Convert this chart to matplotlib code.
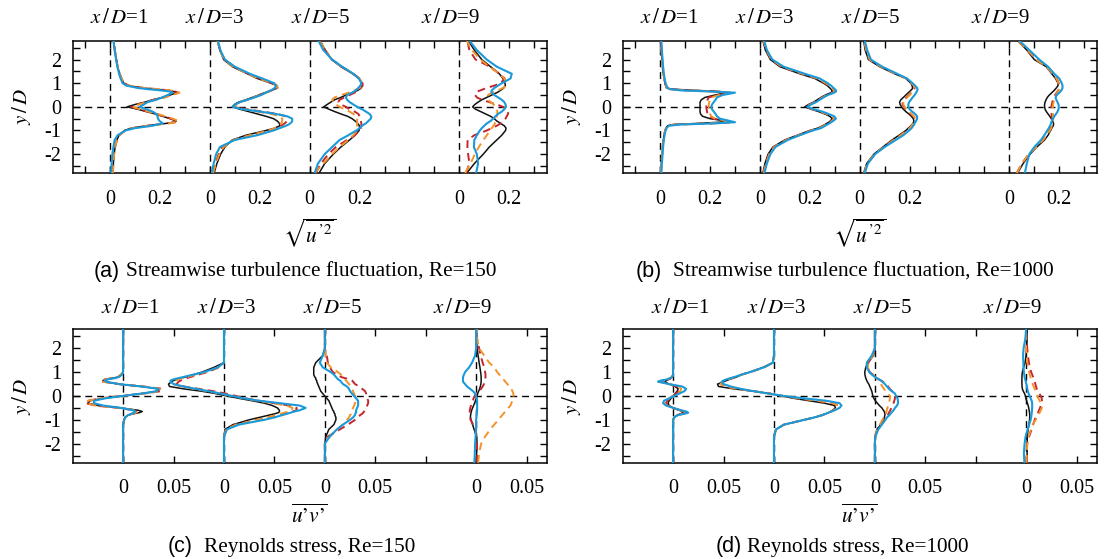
import matplotlib
matplotlib.use('Agg')
import matplotlib.pyplot as plt
import numpy as np

plt.rcParams['font.family'] = 'serif'
plt.rcParams['font.serif'] = ['Liberation Serif', 'DejaVu Serif']
plt.rcParams['mathtext.fontset'] = 'stix'

# ---------------- data ----------------
Y = [-2.8, -2.4, -2.0, -1.7, -1.4, -1.2, -1.0, -0.9,
     -0.8, -0.75, -0.7, -0.65, -0.6,
     -0.5, -0.4, -0.3, -0.2, -0.1, 0.0, 0.1, 0.2, 0.3, 0.4, 0.5,
     0.6, 0.65, 0.7, 0.75, 0.8,
     0.9, 1.0, 1.2, 1.4, 1.7, 2.0, 2.4, 2.8]

STATIONS = ['1', '3', '5', '9']
OFFSETS_U = [0.0, 0.4, 0.8, 1.4]
OFFSETS_UV = [0.0, 0.1, 0.2, 0.35]
U_TICKS = [-0.1, 0.0, 0.1, 0.2, 0.3, 0.4, 0.5, 0.6, 0.7, 0.8, 0.9, 1.0, 1.1, 1.2, 1.3, 1.4, 1.5, 1.6, 1.7]
U_TICKLABELS = ['', '0', '', '0.2', '', '0', '', '0.2', '', '0', '', '0.2', '', '', '', '0', '', '0.2', '']
UV_TICKS = [0.0, 0.05, 0.1, 0.15, 0.2, 0.25, 0.3, 0.35, 0.4]
UV_TICKLABELS = ['0', '0.05', '0', '0.05', '0', '0.05', '', '0', '0.05']
Y_TICKS = [-2.5, -2.0, -1.5, -1.0, -0.5, 0.0, 0.5, 1.0, 1.5, 2.0, 2.5]
Y_TICKLABELS = ['', '-2', '', '-1', '', '0', '', '1', '', '2', '']

# (a) Re=150, streamwise fluctuation
A1_K = [0.011,0.013,0.016,0.02,0.027,0.036,0.057,0.085,
        0.145,0.185,0.225,0.255,0.265,
        0.24,0.21,0.18,0.145,0.11,0.068,0.10,0.14,0.17,0.21,0.24,
        0.268,0.255,0.23,0.18,0.13,
        0.07,0.055,0.045,0.038,0.03,0.025,0.019,0.014]
A1_R = [0.011,0.013,0.016,0.02,0.027,0.037,0.06,0.09,
        0.15,0.19,0.23,0.26,0.27,
        0.245,0.215,0.185,0.15,0.115,0.085,0.11,0.145,0.175,0.215,0.245,
        0.272,0.26,0.235,0.185,0.135,
        0.075,0.057,0.046,0.038,0.03,0.025,0.019,0.014]
A1_O = [0.011,0.013,0.016,0.02,0.027,0.037,0.06,0.09,
        0.15,0.19,0.235,0.265,0.275,
        0.25,0.22,0.19,0.155,0.12,0.09,0.115,0.15,0.18,0.22,0.25,
        0.278,0.265,0.24,0.19,0.135,
        0.075,0.057,0.046,0.038,0.03,0.025,0.019,0.014]
A1_B = [0.004,0.006,0.009,0.013,0.018,0.03,0.062,0.10,
        0.17,0.19,0.21,0.205,0.198,
        0.192,0.19,0.185,0.17,0.145,0.118,0.135,0.15,0.185,0.21,0.23,
        0.25,0.24,0.2,0.15,0.11,
        0.065,0.05,0.042,0.036,0.029,0.024,0.018,0.013]

A2_K = [0.017,0.028,0.043,0.06,0.09,0.145,0.225,0.26,
        0.28,0.28,0.278,0.275,0.27,
        0.255,0.225,0.19,0.155,0.12,0.09,0.098,0.115,0.145,0.17,0.195,
        0.22,0.233,0.245,0.26,0.272,
        0.268,0.245,0.19,0.15,0.09,0.055,0.04,0.03]
A2_R = [0.012,0.022,0.035,0.05,0.095,0.17,0.24,0.265,
        0.285,0.292,0.3,0.305,0.308,
        0.31,0.305,0.27,0.21,0.145,0.105,0.1,0.12,0.15,0.175,0.2,
        0.225,0.237,0.248,0.256,0.262,
        0.265,0.25,0.2,0.155,0.095,0.058,0.041,0.031]
A2_O = [0.013,0.024,0.038,0.055,0.095,0.16,0.235,0.26,
        0.278,0.282,0.285,0.288,0.29,
        0.29,0.28,0.245,0.19,0.135,0.1,0.1,0.12,0.15,0.175,0.2,
        0.225,0.238,0.25,0.26,0.27,
        0.27,0.25,0.195,0.152,0.093,0.057,0.04,0.03]
A2_B = [0.008,0.015,0.025,0.04,0.1,0.19,0.255,0.28,
        0.305,0.315,0.322,0.327,0.33,
        0.33,0.31,0.265,0.2,0.13,0.092,0.1,0.12,0.15,0.18,0.205,
        0.225,0.235,0.245,0.253,0.26,
        0.265,0.258,0.21,0.16,0.1,0.06,0.042,0.032]

A3_K = [0.038,0.06,0.095,0.125,0.16,0.182,0.198,0.2,
        0.199,0.196,0.192,0.188,0.182,
        0.17,0.152,0.125,0.1,0.077,0.056,0.07,0.085,0.1,0.125,0.145,
        0.17,0.182,0.193,0.2,0.205,
        0.211,0.21,0.198,0.172,0.125,0.088,0.062,0.042]
A3_R = [0.025,0.045,0.075,0.105,0.15,0.18,0.2,0.205,
        0.207,0.207,0.207,0.206,0.205,
        0.203,0.2,0.195,0.18,0.16,0.145,0.125,0.115,0.12,0.14,0.16,
        0.18,0.188,0.195,0.2,0.205,
        0.212,0.212,0.2,0.175,0.128,0.09,0.062,0.04]
A3_O = [0.02,0.055,0.09,0.12,0.155,0.175,0.19,0.19,
        0.19,0.19,0.19,0.19,0.19,
        0.19,0.188,0.175,0.16,0.14,0.12,0.105,0.095,0.09,0.1,0.125,
        0.155,0.168,0.18,0.19,0.2,
        0.208,0.21,0.2,0.175,0.127,0.089,0.061,0.04]
A3_B = [0.02,0.033,0.06,0.09,0.12,0.155,0.187,0.2,
        0.21,0.217,0.225,0.23,0.235,
        0.245,0.247,0.24,0.225,0.21,0.19,0.175,0.16,0.15,0.145,0.15,
        0.17,0.178,0.185,0.19,0.195,
        0.203,0.207,0.197,0.175,0.13,0.09,0.055,0.035]

A4_K = [0.03,0.06,0.096,0.12,0.15,0.17,0.185,0.187,
        0.18,0.172,0.165,0.158,0.15,
        0.14,0.125,0.105,0.085,0.065,0.053,0.062,0.075,0.09,0.11,0.13,
        0.15,0.158,0.165,0.172,0.178,
        0.184,0.183,0.175,0.16,0.125,0.09,0.06,0.036]
A4_R = [0.027,0.04,0.035,0.032,0.033,0.06,0.11,0.13,
        0.15,0.158,0.165,0.17,0.176,
        0.185,0.19,0.195,0.196,0.19,0.175,0.15,0.12,0.09,0.07,0.063,
        0.065,0.072,0.085,0.097,0.11,
        0.14,0.165,0.182,0.16,0.123,0.065,0.04,0.032]
A4_O = [0.023,0.045,0.062,0.078,0.096,0.11,0.123,0.13,
        0.137,0.14,0.142,0.144,0.145,
        0.148,0.15,0.152,0.152,0.15,0.145,0.137,0.125,0.115,0.11,0.115,
        0.13,0.142,0.155,0.165,0.175,
        0.188,0.19,0.18,0.16,0.12,0.085,0.05,0.03]
A4_B = [0.067,0.075,0.07,0.058,0.06,0.07,0.082,0.09,
        0.1,0.105,0.11,0.118,0.125,
        0.135,0.145,0.155,0.17,0.18,0.187,0.185,0.18,0.17,0.155,0.14,
        0.13,0.128,0.13,0.135,0.14,
        0.155,0.17,0.205,0.21,0.15,0.11,0.07,0.04]

# (b) Re=1000, streamwise fluctuation
B1_K = [0.003,0.005,0.008,0.01,0.013,0.016,0.02,0.024,
        0.03,0.05,0.15,0.24,0.265,
        0.2,0.17,0.162,0.16,0.16,0.16,0.16,0.16,0.165,0.18,0.22,
        0.262,0.24,0.14,0.045,0.025,
        0.022,0.02,0.016,0.013,0.01,0.008,0.005,0.003]
B1_R = [0.003,0.005,0.008,0.01,0.013,0.016,0.02,0.024,
        0.03,0.06,0.2,0.29,0.27,
        0.215,0.195,0.19,0.188,0.186,0.185,0.186,0.188,0.19,0.195,0.23,
        0.28,0.22,0.1,0.04,0.027,
        0.023,0.02,0.016,0.013,0.01,0.008,0.005,0.003]
B1_O = [0.003,0.005,0.008,0.01,0.013,0.016,0.02,0.024,
        0.03,0.06,0.2,0.285,0.27,
        0.22,0.205,0.2,0.197,0.195,0.195,0.195,0.197,0.2,0.205,0.235,
        0.28,0.22,0.1,0.04,0.027,
        0.023,0.02,0.016,0.013,0.01,0.008,0.005,0.003]
B1_B = [0.005,0.007,0.01,0.012,0.015,0.018,0.022,0.026,
        0.035,0.08,0.22,0.3,0.28,
        0.24,0.228,0.222,0.215,0.208,0.205,0.208,0.215,0.222,0.228,0.25,
        0.3,0.2,0.08,0.04,0.03,
        0.026,0.022,0.018,0.015,0.012,0.01,0.007,0.005]

B2_K = [0.012,0.02,0.033,0.052,0.1,0.15,0.2,0.232,
        0.252,0.26,0.268,0.276,0.282,
        0.29,0.28,0.26,0.235,0.205,0.18,0.195,0.215,0.23,0.245,0.262,
        0.285,0.29,0.288,0.285,0.28,
        0.27,0.255,0.22,0.16,0.08,0.042,0.022,0.012]
B2_R = [0.014,0.023,0.037,0.056,0.105,0.155,0.206,0.238,
        0.256,0.264,0.272,0.28,0.287,
        0.297,0.29,0.268,0.242,0.21,0.185,0.2,0.22,0.235,0.25,0.267,
        0.292,0.298,0.296,0.292,0.288,
        0.278,0.263,0.23,0.17,0.087,0.046,0.025,0.014]
B2_O = [0.015,0.024,0.038,0.057,0.106,0.156,0.207,0.239,
        0.257,0.265,0.273,0.281,0.288,
        0.298,0.29,0.268,0.243,0.212,0.187,0.202,0.222,0.237,0.252,0.268,
        0.293,0.299,0.297,0.293,0.289,
        0.279,0.264,0.231,0.171,0.088,0.047,0.026,0.015]
B2_B = [0.018,0.028,0.042,0.062,0.112,0.16,0.212,0.245,
        0.262,0.27,0.278,0.286,0.293,
        0.305,0.298,0.275,0.25,0.215,0.19,0.205,0.225,0.24,0.255,0.272,
        0.298,0.305,0.305,0.3,0.295,
        0.285,0.272,0.24,0.18,0.095,0.05,0.028,0.017]

B3_K = [0.016,0.028,0.057,0.093,0.13,0.158,0.185,0.195,
        0.205,0.21,0.213,0.216,0.217,
        0.215,0.207,0.197,0.185,0.175,0.168,0.162,0.16,0.165,0.175,0.185,
        0.195,0.2,0.205,0.21,0.212,
        0.21,0.205,0.185,0.14,0.08,0.035,0.022,0.016]
B3_R = [0.018,0.03,0.06,0.097,0.137,0.165,0.19,0.2,
        0.208,0.212,0.215,0.218,0.22,
        0.222,0.215,0.205,0.195,0.185,0.178,0.172,0.172,0.178,0.188,0.198,
        0.207,0.212,0.216,0.219,0.22,
        0.217,0.208,0.187,0.145,0.085,0.04,0.026,0.018]
B3_O = [0.018,0.03,0.06,0.097,0.137,0.165,0.19,0.2,
        0.208,0.212,0.215,0.218,0.22,
        0.222,0.217,0.208,0.197,0.187,0.18,0.175,0.175,0.18,0.19,0.2,
        0.208,0.213,0.217,0.219,0.22,
        0.217,0.208,0.187,0.145,0.085,0.04,0.026,0.018]
B3_B = [0.02,0.033,0.062,0.1,0.145,0.175,0.198,0.208,
        0.215,0.218,0.22,0.223,0.226,
        0.23,0.23,0.222,0.21,0.2,0.195,0.195,0.198,0.205,0.212,0.22,
        0.226,0.229,0.231,0.232,0.23,
        0.222,0.212,0.19,0.15,0.09,0.045,0.03,0.02]

B4_K = [0.033,0.055,0.083,0.11,0.141,0.155,0.165,0.17,
        0.176,0.177,0.177,0.175,0.173,
        0.168,0.162,0.155,0.148,0.143,0.141,0.141,0.143,0.147,0.152,0.16,
        0.17,0.175,0.18,0.184,0.188,
        0.195,0.195,0.185,0.17,0.148,0.1,0.07,0.033]
B4_R = [0.03,0.05,0.078,0.108,0.135,0.15,0.16,0.165,
        0.168,0.17,0.171,0.172,0.172,
        0.171,0.17,0.169,0.168,0.168,0.168,0.17,0.172,0.175,0.178,0.183,
        0.19,0.193,0.196,0.198,0.2,
        0.2,0.198,0.19,0.175,0.15,0.11,0.075,0.035]
B4_O = [0.03,0.05,0.078,0.108,0.135,0.15,0.162,0.167,
        0.171,0.173,0.174,0.175,0.175,
        0.175,0.175,0.175,0.174,0.174,0.174,0.175,0.177,0.18,0.183,0.187,
        0.192,0.195,0.197,0.198,0.199,
        0.199,0.197,0.189,0.174,0.149,0.108,0.073,0.034]
B4_B = [0.062,0.07,0.08,0.1,0.127,0.14,0.152,0.158,
        0.163,0.165,0.167,0.168,0.17,
        0.175,0.18,0.187,0.193,0.197,0.198,0.197,0.193,0.188,0.185,0.19,
        0.2,0.205,0.208,0.211,0.213,
        0.213,0.21,0.2,0.18,0.155,0.12,0.08,0.04]

# (c) Re=150, Reynolds stress
C1_K = [0,0,0,0,0,0,0.001,0.002,
        0.005,0.01,0.016,0.019,0.015,
        -0.002,-0.025,-0.035,-0.033,-0.02,-0.002,0.018,0.034,0.036,0.018,-0.005,
        -0.018,-0.02,-0.017,-0.01,-0.005,
        -0.002,0,0,0,0,0,0,0]
C1_R = [0,0,0,0,0,0,0.001,0.002,
        0.005,0.008,0.012,0.014,0.012,
        -0.005,-0.028,-0.037,-0.035,-0.022,-0.002,0.02,0.037,0.039,0.02,-0.004,
        -0.02,-0.022,-0.018,-0.01,-0.005,
        -0.002,0,0,0,0,0,0,0]
C1_O = [0,0,0,0,0,0,0.001,0.002,
        0.005,0.009,0.013,0.015,0.012,
        -0.004,-0.027,-0.037,-0.035,-0.022,-0.002,0.02,0.036,0.038,0.02,-0.004,
        -0.02,-0.022,-0.018,-0.01,-0.005,
        -0.002,0,0,0,0,0,0,0]
C1_B = [0,0,0,0,0,0,0.001,0.002,
        0.005,0.008,0.011,0.012,0.01,
        -0.002,-0.02,-0.029,-0.029,-0.018,-0.001,0.018,0.033,0.035,0.018,-0.004,
        -0.017,-0.018,-0.015,-0.008,-0.004,
        -0.001,0,0,0,0,0,0,0]

C2_K = [0,0,0,0,0.001,0.009,0.025,0.035,
        0.045,0.05,0.054,0.055,0.055,
        0.053,0.048,0.04,0.028,0.015,0.003,-0.008,-0.022,-0.04,-0.054,-0.055,
        -0.052,-0.05,-0.046,-0.042,-0.038,
        -0.03,-0.022,-0.01,0,0,0,0,0]
C2_R = [0,0,0,0,0.002,0.012,0.035,0.045,
        0.055,0.06,0.064,0.068,0.072,
        0.072,0.065,0.05,0.035,0.022,0.012,0.002,-0.01,-0.025,-0.04,-0.047,
        -0.045,-0.043,-0.04,-0.037,-0.033,
        -0.025,-0.017,-0.005,0,0,0,0,0]
C2_O = [0,0,0,0,0.002,0.012,0.033,0.043,
        0.052,0.056,0.06,0.064,0.067,
        0.068,0.062,0.048,0.033,0.02,0.008,-0.003,-0.016,-0.03,-0.043,-0.05,
        -0.05,-0.048,-0.045,-0.041,-0.036,
        -0.028,-0.019,-0.006,0,0,0,0,0]
C2_B = [0,0,0,0,0.003,0.015,0.04,0.05,
        0.058,0.062,0.066,0.07,0.075,
        0.081,0.075,0.055,0.035,0.02,0.008,-0.003,-0.015,-0.028,-0.04,-0.05,
        -0.053,-0.053,-0.05,-0.045,-0.04,
        -0.03,-0.02,-0.006,0,0,0,0,0]

C3_K = [0,0,0,0.001,0.004,0.009,0.011,0.011,
        0.01,0.01,0.009,0.009,0.008,
        0.007,0.006,0.005,0.004,0.002,0.0,-0.002,-0.004,-0.005,-0.006,-0.007,
        -0.008,-0.008,-0.009,-0.009,-0.01,
        -0.011,-0.011,-0.011,-0.009,-0.002,0,0,0]
C3_R = [0,0,0,0.003,0.015,0.023,0.03,0.033,
        0.035,0.037,0.038,0.039,0.04,
        0.041,0.042,0.043,0.043,0.042,0.041,0.041,0.04,0.037,0.034,0.03,
        0.028,0.027,0.025,0.02,0.016,
        0.012,0.008,0.005,0.003,0.002,0,0,0]
C3_O = [0,0,0,0.005,0.012,0.018,0.022,0.024,
        0.025,0.026,0.026,0.027,0.027,
        0.028,0.029,0.03,0.03,0.03,0.03,0.029,0.028,0.027,0.026,0.024,
        0.022,0.021,0.02,0.019,0.018,
        0.016,0.013,0.006,0.002,0.001,0,0,0]
C3_B = [0,0,0,0.005,0.012,0.018,0.025,0.028,
        0.03,0.03,0.031,0.031,0.031,
        0.032,0.033,0.033,0.033,0.031,0.029,0.027,0.025,0.024,0.022,0.018,
        0.016,0.015,0.013,0.012,0.011,
        0.009,0.006,-0.002,-0.005,-0.002,0,0,0]

C4_K = [0,0.0005,0.001,0.0005,-0.002,-0.0035,-0.005,-0.0056,
        -0.0055,-0.0052,-0.005,-0.0047,-0.0044,
        -0.0035,-0.0025,-0.0015,-0.0007,0.0003,0.001,0.0015,0.0025,0.0035,0.0042,0.0047,
        0.005,0.005,0.005,0.005,0.005,
        0.0048,0.0045,0.0038,0.003,0.002,0.001,0.0005,0]
C4_R = [0.001,0.001,0.0008,0.0002,-0.001,-0.003,-0.0055,-0.006,
        -0.0063,-0.0064,-0.0064,-0.0063,-0.0062,
        -0.0058,-0.005,-0.004,-0.0033,-0.0025,-0.0015,0.0005,0.003,0.005,0.0065,0.0078,
        0.0086,0.0089,0.009,0.0092,0.0093,
        0.0093,0.009,0.008,0.0065,0.0045,0.003,0.001,0]
C4_O = [0.002,0.003,0.005,0.009,0.014,0.018,0.022,0.024,
        0.026,0.027,0.028,0.029,0.03,
        0.032,0.034,0.035,0.036,0.037,0.037,0.037,0.036,0.035,0.033,0.031,
        0.029,0.028,0.027,0.026,0.025,
        0.023,0.021,0.018,0.013,0.008,0.003,0.001,0.001]
C4_B = [-0.0017,-0.0013,-0.001,-0.0005,0,0,0,0.0003,
        0.0005,0.0007,0.0008,0.0009,0.001,
        0.001,0.001,0.001,0.001,0.0005,0,-0.001,-0.003,-0.006,-0.009,-0.011,
        -0.013,-0.013,-0.013,-0.013,-0.013,
        -0.012,-0.011,-0.007,-0.004,-0.001,0,0,0]

# (d) Re=1000, Reynolds stress
D1_K = [0,0,0,0,0,0,0,0.001,
        0.004,0.007,0.01,0.009,0.006,
        0.0,-0.004,-0.005,-0.004,-0.002,0.0,0.002,0.004,0.005,0.002,-0.004,
        -0.008,-0.007,-0.004,-0.002,-0.001,
        0,0,0,0,0,0,0,0]
D1_R = [0,0,0,0,0,0,0,0.001,
        0.004,0.008,0.012,0.011,0.007,
        0.0,-0.005,-0.007,-0.006,-0.003,0.0,0.003,0.006,0.007,0.004,-0.004,
        -0.012,-0.01,-0.005,-0.002,-0.001,
        0,0,0,0,0,0,0,0]
D1_O = [0,0,0,0,0,0,0,0.001,
        0.005,0.01,0.014,0.012,0.007,
        0.0,-0.006,-0.009,-0.008,-0.004,0.0,0.004,0.007,0.008,0.005,-0.004,
        -0.014,-0.011,-0.006,-0.003,-0.001,
        0,0,0,0,0,0,0,0]
D1_B = [0,0,0,0,0,0,0,0.001,
        0.005,0.011,0.015,0.013,0.008,
        0.0,-0.007,-0.01,-0.009,-0.004,0.001,0.006,0.011,0.013,0.009,-0.004,
        -0.015,-0.012,-0.006,-0.003,-0.001,
        0,0,0,0,0,0,0,0]

D2_K = [0,0,0,0,0.002,0.01,0.03,0.04,
        0.048,0.051,0.054,0.056,0.058,
        0.061,0.06,0.05,0.035,0.02,0.008,-0.003,-0.02,-0.04,-0.055,-0.056,
        -0.05,-0.047,-0.044,-0.04,-0.037,
        -0.032,-0.024,-0.011,-0.001,0,0,0,0]
D2_R = [0,0,0,0,0.002,0.01,0.03,0.04,
        0.048,0.051,0.054,0.057,0.059,
        0.063,0.064,0.058,0.043,0.025,0.009,-0.004,-0.02,-0.036,-0.048,-0.053,
        -0.051,-0.049,-0.046,-0.042,-0.038,
        -0.032,-0.024,-0.01,-0.001,0,0,0,0]
D2_O = [0,0,0,0,0.002,0.01,0.03,0.04,
        0.048,0.051,0.054,0.057,0.059,
        0.063,0.064,0.058,0.043,0.025,0.009,-0.004,-0.02,-0.036,-0.048,-0.053,
        -0.051,-0.049,-0.046,-0.042,-0.038,
        -0.032,-0.024,-0.01,-0.001,0,0,0,0]
D2_B = [0,0,0,0,0.002,0.01,0.03,0.04,
        0.048,0.051,0.054,0.057,0.06,
        0.065,0.067,0.065,0.052,0.03,0.01,-0.005,-0.02,-0.033,-0.043,-0.05,
        -0.052,-0.05,-0.047,-0.043,-0.039,
        -0.032,-0.024,-0.01,-0.001,0,0,0,0]

D3_K = [0,0,0,0.0005,0.002,0.006,0.0085,0.0095,
        0.01,0.01,0.0098,0.0093,0.0085,
        0.007,0.0045,0.0025,0.0005,-0.001,-0.002,-0.0025,-0.003,-0.004,-0.005,-0.006,
        -0.0075,-0.008,-0.0085,-0.009,-0.0093,
        -0.0098,-0.01,-0.009,-0.007,-0.0013,0,0,0]
D3_R = [0,0,0,0.0005,0.0025,0.006,0.01,0.0115,
        0.0128,0.0135,0.014,0.0147,0.0153,
        0.0165,0.0175,0.0185,0.0193,0.02,0.02,0.019,0.017,0.0148,0.013,0.0116,
        0.008,0.006,0.004,0.0025,0.0017,
        -0.002,-0.005,-0.007,-0.0065,-0.002,0,0,0]
D3_O = [0,0,0,0.0005,0.0025,0.005,0.0075,0.009,
        0.0105,0.011,0.0113,0.0115,0.0117,
        0.0125,0.0135,0.014,0.0145,0.015,0.015,0.013,0.011,0.009,0.0075,0.006,
        0.0045,0.0035,0.0025,0.0015,0.0005,
        -0.002,-0.005,-0.007,-0.0065,-0.002,0,0,0]
D3_B = [0,0,0,0.0005,0.0035,0.007,0.0105,0.012,
        0.0145,0.0155,0.0165,0.0175,0.0185,
        0.02,0.022,0.023,0.023,0.0225,0.021,0.02,0.017,0.014,0.012,0.01,
        0.0075,0.006,0.004,0.002,0.0,
        -0.003,-0.0055,-0.008,-0.008,-0.003,0,0,0]

D4_K = [0.001,0.001,0.001,0.0012,0.002,0.0028,0.0034,0.0036,
        0.0036,0.0035,0.0034,0.0032,0.003,
        0.0026,0.002,0.0013,0.0005,-0.0002,-0.0007,-0.0015,-0.0028,-0.0037,-0.004,-0.0041,
        -0.0042,-0.0042,-0.0042,-0.0041,-0.0041,
        -0.004,-0.0037,-0.0025,-0.001,0,0.0005,0.001,0.001]
D4_R = [0.0005,0.0007,0.001,0.003,0.0055,0.007,0.0085,0.0095,
        0.0108,0.0113,0.0118,0.0123,0.0128,
        0.0138,0.0147,0.0153,0.0157,0.0155,0.0145,0.0132,0.0118,0.0106,0.0098,0.0092,
        0.0085,0.0081,0.0077,0.0073,0.0069,
        0.006,0.005,0.0038,0.0028,0.0018,0.0011,0.0005,0]
D4_O = [0.0005,0.0007,0.0012,0.0025,0.0048,0.0065,0.0095,0.011,
        0.0122,0.0128,0.0134,0.014,0.0146,
        0.0155,0.0158,0.0148,0.0135,0.0122,0.0112,0.0103,0.0094,0.0085,0.0075,0.0065,
        0.0055,0.005,0.0047,0.0045,0.0043,
        0.0035,0.003,0.002,0.0012,0.0005,0,0,0]
D4_B = [-0.0017,-0.0022,-0.0015,-0.0005,0.0015,0.003,0.0045,0.005,
        0.0053,0.0055,0.0056,0.0057,0.0058,
        0.006,0.006,0.006,0.0055,0.0045,0.0035,0.0025,0.0017,0.0012,0.0008,0.0003,
        -0.0003,-0.0006,-0.0009,-0.0012,-0.0015,
        -0.0018,-0.0022,-0.0025,-0.0027,-0.003,-0.0025,-0.0008,0]

CAPTION_LABELS = ['(a)', '(b)', '(c)', '(d)']
CAPTION_TEXTS = ['Streamwise turbulence fluctuation, Re=150',
                 'Streamwise turbulence fluctuation, Re=1000',
                 'Reynolds stress, Re=150',
                 'Reynolds stress, Re=1000']

# ---------------- style ----------------
C_K = '#111111'
C_R = '#c4262e'
C_O = '#f4922a'
C_B = '#1a9ad8'

W, H = 1104, 559
fig = plt.figure(figsize=(W / 100, H / 100), dpi=100)


def rect(l, t, r, b):
    return [l / W, 1 - b / H, (r - l) / W, (b - t) / H]


def fx(px):
    return px / W


def fy(py):
    return 1 - py / H


def draw_panel(box, profiles, offsets, xlim, xticks, xticklabels, title_px, title_dy):
    ax = fig.add_axes(rect(*box))
    ax.set_xlim(*xlim)
    ax.set_ylim(-2.8, 2.8)
    for off in offsets:
        ax.axvline(off, color='k', lw=1.0, ls=(0, (5, 3.5)), zorder=1)
    ax.axhline(0, color='k', lw=1.0, ls=(0, (5, 3.5)), zorder=1)
    for (k, r, o, b), off in zip(profiles, offsets):
        ax.plot(np.add(k, off), Y, color=C_K, lw=1.1, zorder=3)
        ax.plot(np.add(r, off), Y, color=C_R, lw=1.4, ls=(0, (4, 2.6)), zorder=4)
        ax.plot(np.add(o, off), Y, color=C_O, lw=1.4, ls=(0, (4, 2.6)), zorder=5)
        ax.plot(np.add(b, off), Y, color=C_B, lw=1.5, zorder=6)
    ax.set_xticks(xticks)
    ax.set_xticklabels(xticklabels)
    ax.set_yticks(Y_TICKS)
    ax.set_yticklabels(Y_TICKLABELS)
    ax.tick_params(direction='in', top=True, right=True, length=5, width=1.0,
                   labelsize=14.5)
    ax.tick_params(axis='x', pad=12)
    ax.tick_params(axis='y', pad=8)
    for s in ax.spines.values():
        s.set_linewidth(1.1)
    l, t, r, b = box
    for st, dx in zip(STATIONS, title_px):
        fig.text(fx(l + dx), fy(t - title_dy), r'$x\,/\,D$=' + st, ha='center', va='center',
                 fontsize=15)
    fig.text(fx(l - 51), fy((t + b) / 2), r'$y\,/\,D$', rotation=90, ha='center',
             va='center', fontsize=15)
    return ax


TITLE_TOP = [46.3, 142.3, 248.3, 377.5]
TITLE_BOT = [58.0, 154.0, 260.0, 389.5]

BOX_A = (72.7, 40.7, 546.7, 173.0)
BOX_B = (622.7, 40.7, 1096.7, 173.0)
BOX_C = (72.7, 329.3, 546.7, 462.7)
BOX_D = (622.7, 329.3, 1096.7, 462.7)

draw_panel(BOX_A, [(A1_K, A1_R, A1_O, A1_B), (A2_K, A2_R, A2_O, A2_B),
                   (A3_K, A3_R, A3_O, A3_B), (A4_K, A4_R, A4_O, A4_B)],
           OFFSETS_U, (-0.15, 1.75), U_TICKS, U_TICKLABELS, TITLE_TOP, 22)
draw_panel(BOX_B, [(B1_K, B1_R, B1_O, B1_B), (B2_K, B2_R, B2_O, B2_B),
                   (B3_K, B3_R, B3_O, B3_B), (B4_K, B4_R, B4_O, B4_B)],
           OFFSETS_U, (-0.15, 1.75), U_TICKS, U_TICKLABELS, TITLE_TOP, 22)
draw_panel(BOX_C, [(C1_K, C1_R, C1_O, C1_B), (C2_K, C2_R, C2_O, C2_B),
                   (C3_K, C3_R, C3_O, C3_B), (C4_K, C4_R, C4_O, C4_B)],
           OFFSETS_UV, (-0.05, 0.42), UV_TICKS, UV_TICKLABELS, TITLE_BOT, 21)
draw_panel(BOX_D, [(D1_K, D1_R, D1_O, D1_B), (D2_K, D2_R, D2_O, D2_B),
                   (D3_K, D3_R, D3_O, D3_B), (D4_K, D4_R, D4_O, D4_B)],
           OFFSETS_UV, (-0.05, 0.42), UV_TICKS, UV_TICKLABELS, TITLE_BOT, 21)

# x labels
APOS = '\u2019'
for cx in (309.7, 859.7):
    fig.text(fx(cx), fy(233), r'$\sqrt{\overline{u^{' + APOS + r'2}}}$', ha='center',
             va='center', fontsize=15.5)
    fig.text(fx(cx), fy(516), r'$\overline{u' + APOS + 'v' + APOS + '}$', ha='center',
             va='center', fontsize=15.5)

# captions: sans-serif panel letter followed by serif text
renderer = fig.canvas.get_renderer()
CAP_POS = [(93.5, 277, 6), (635.5, 277, 11), (167.5, 552, 11), (715.5, 552, 5)]
for (x0, yb, gap), lab, txt in zip(CAP_POS, CAPTION_LABELS, CAPTION_TEXTS):
    t1 = fig.text(fx(x0), fy(yb), lab, ha='left', va='baseline', fontsize=15.5,
                  family='Liberation Sans')
    bb = t1.get_window_extent(renderer=renderer)
    fig.text((bb.x1 + gap) / W, fy(yb), txt, ha='left', va='baseline', fontsize=15.3)

fig.savefig('out.png', dpi=100)
